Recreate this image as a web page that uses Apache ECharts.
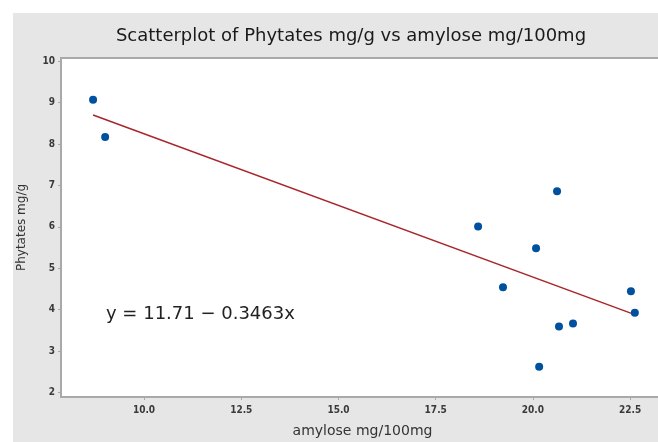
<!DOCTYPE html>
<html>
<head>
<meta charset="utf-8">
<script src="https://cdn.jsdelivr.net/npm/echarts@6/dist/echarts.min.js"></script>
<style>
  html, body { margin: 0; padding: 0; background: #fff; }
  #main { width: 658px; height: 442px; }
</style>
</head>
<body>
<div id="main"></div>
<script>
// amylose (mg/100mg) vs phytates (mg/g)
var amylose = [8.69, 9.0, 18.59, 20.62, 20.08, 19.23, 20.16, 20.67, 21.03, 22.52, 22.62];
var phytates = [9.07, 8.17, 6.01, 6.86, 5.48, 4.54, 2.62, 3.59, 3.66, 4.44, 3.92];
var xTicks = [10, 12.5, 15, 17.5, 20, 22.5];
var yTicks = [2, 3, 4, 5, 6, 7, 8, 9, 10];
// fitted line y = 11.71 - 0.3463x
var intercept = 11.71;
var slope = -0.3463;

var points = amylose.map(function (x, i) { return [x, phytates[i]]; });
var xMin = Math.min.apply(null, amylose);
var xMax = Math.max.apply(null, amylose);
var fitLine = [[xMin, intercept + slope * xMin], [xMax, intercept + slope * xMax]];

var chart = echarts.init(document.getElementById('main'));
var axisGray = '#a9a9a9';
var labelStyle = { color: '#3a3a3a', fontSize: 10, fontWeight: 'bold', fontFamily: 'DejaVu Sans Condensed, DejaVu Sans' };

chart.setOption({
  backgroundColor: '#ffffff',
  animation: false,
  graphic: [{
    type: 'rect',
    z: -10,
    shape: { x: 13, y: 13, width: 660, height: 440 },
    style: { fill: '#e6e6e6' }
  }, {
    type: 'text',
    left: 106,
    top: 305,
    z: 10,
    style: {
      text: 'y = 11.71 \u2212 0.3463x',
      fontSize: 18,
      fontFamily: 'DejaVu Sans',
      fill: '#222'
    }
  }],
  title: {
    text: 'Scatterplot of Phytates mg/g vs amylose mg/100mg',
    left: 346,
    textAlign: 'center',
    top: 22,
    textStyle: { fontSize: 18, fontWeight: 'normal', color: '#1a1a1a', fontFamily: 'DejaVu Sans' }
  },
  grid: {
    left: 61,
    top: 58,
    right: -6,
    bottom: 45,
    outerBoundsMode: 'none',
    show: true,
    backgroundColor: '#ffffff',
    borderColor: axisGray,
    borderWidth: 2
  },
  xAxis: {
    type: 'value',
    min: 7.865,
    max: 23.37,
    name: 'amylose mg/100mg',
    nameLocation: 'middle',
    nameGap: 27,
    nameTextStyle: { color: '#333', fontSize: 14, fontFamily: 'DejaVu Sans' },
    splitLine: { show: false },
    axisLine: { show: true, lineStyle: { color: axisGray, width: 2 } },
    axisTick: { show: true, length: 3, customValues: xTicks, lineStyle: { color: axisGray } },
    axisLabel: Object.assign({ customValues: xTicks, margin: 8, formatter: function (v) { return v.toFixed(1); } }, labelStyle)
  },
  yAxis: {
    type: 'value',
    min: 1.886,
    max: 10.08,
    name: 'Phytates mg/g',
    nameLocation: 'middle',
    nameGap: 33,
    nameTextStyle: { color: '#333', fontSize: 12, fontFamily: 'DejaVu Sans' },
    splitLine: { show: false },
    axisLine: { show: true, lineStyle: { color: axisGray, width: 2 } },
    axisTick: { show: true, length: 3, customValues: yTicks, lineStyle: { color: axisGray } },
    axisLabel: Object.assign({ customValues: yTicks, margin: 6 }, labelStyle)
  },
  series: [{
    type: 'line',
    data: fitLine,
    symbol: 'none',
    lineStyle: { color: '#a8262a', width: 1.5 },
    z: 2
  }, {
    type: 'scatter',
    data: points,
    symbol: 'circle',
    symbolSize: 8,
    itemStyle: { color: '#0050a0', opacity: 1 },
    z: 3
  }]
});
</script>
</body>
</html>
